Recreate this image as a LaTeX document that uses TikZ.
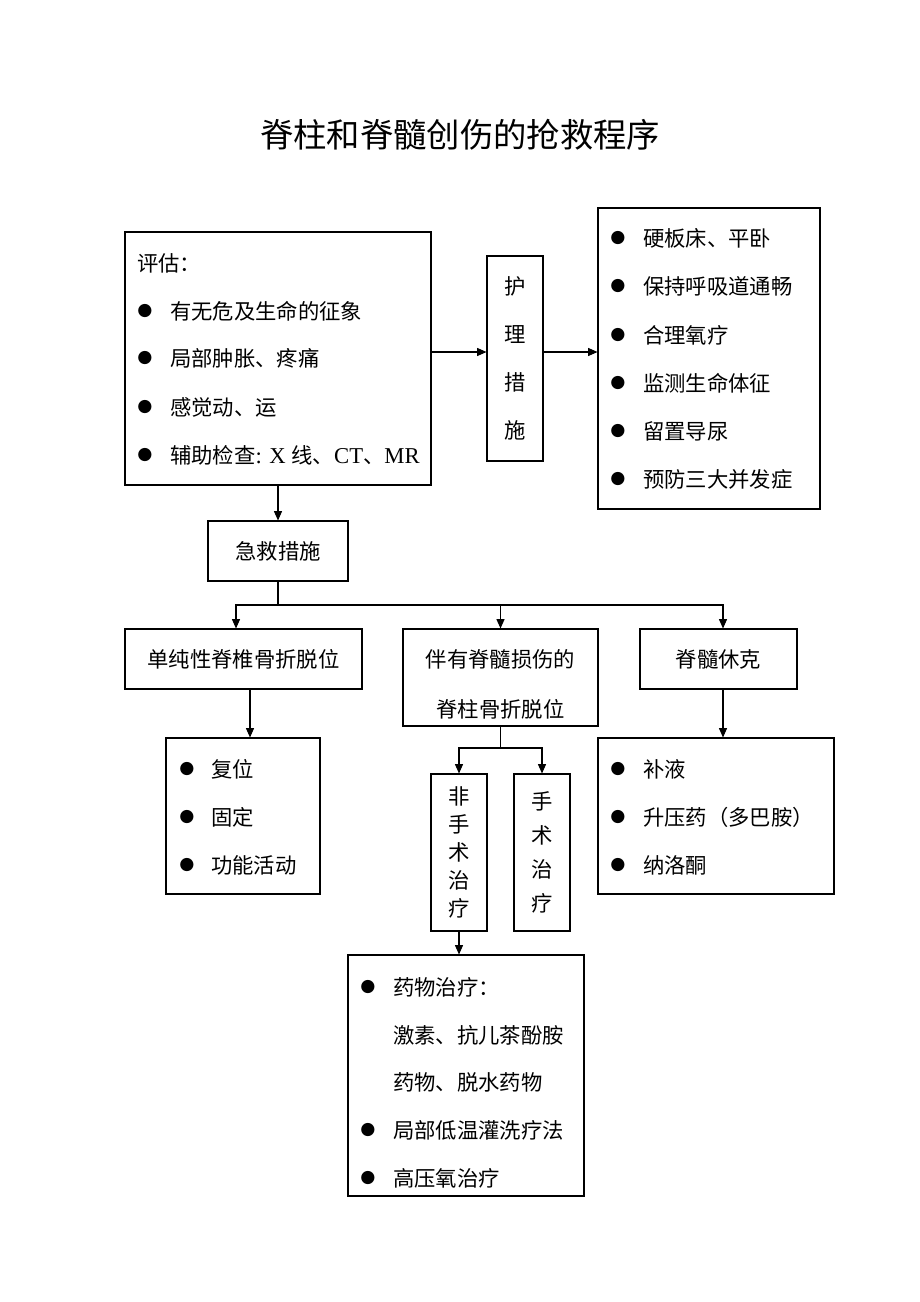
\documentclass[tikz,border=0pt]{standalone}
\usepackage{fontspec}
\setmainfont{Noto Sans CJK SC}
\newfontfamily\lat{Liberation Serif}
\newfontfamily\sym{DejaVu Sans}
\usetikzlibrary{arrows.meta,calc}
\begin{document}
\begin{tikzpicture}[x=0.75pt,y=-0.75pt,
  box/.style={draw, line width=0.8pt, inner sep=0pt, align=center, font=\fontsize{16}{36}\selectfont},
  txt/.style={anchor=west, inner sep=0pt, font=\fontsize{16}{20}\selectfont},
  bul/.style={inner sep=0pt, font=\sym\fontsize{13}{16}\selectfont},
  arr/.style={-{Triangle[length=7pt,width=6pt]}, line width=0.8pt},
  ln/.style={line width=0.8pt}]
\fill[white] (0,0) rectangle (920,1302);
\useasboundingbox (0,0) rectangle (920,1302);
% title
\node[inner sep=0pt, font=\fontsize{25}{30}\selectfont] (title) at (460,135) {脊柱和脊髓创伤的抢救程序};
% evaluation box
\node[box, minimum width={306*0.75pt}, minimum height={253*0.75pt}] (ev) at (278,358.5) {};
\node[txt] (ev0) at (137,263) {评估：};
\foreach \n/\y/\t in {1/311/有无危及生命的征象, 2/358/局部肿胀、疼痛, 3/407/感觉动、运}{
  \node[bul] (evb\n) at (145,\y) {●};
  \node[txt] (evt\n) at (170,\y) {\t};
}
\node[bul] (evb4) at (145,455) {●};
\node[txt] (evt4) at (170,455) {辅助检查{\lat\fontsize{17}{20}\selectfont: X }线、{\lat\fontsize{17}{20}\selectfont CT}、{\lat\fontsize{17}{20}\selectfont MR}};
% nursing
\node[box, minimum width={56*0.75pt}, minimum height={205*0.75pt}] (hl) at (515,358.5) {护\\理\\措\\施};
% right list
\node[box, minimum width={222*0.75pt}, minimum height={301*0.75pt}] (rl) at (709,358.5) {};
\foreach \n/\y/\t in {1/238/硬板床、平卧, 2/286/保持呼吸道通畅, 3/335/合理氧疗, 4/383/监测生命体征, 5/431/留置导尿, 6/479/预防三大并发症}{
  \node[bul] (rlb\n) at (618,\y) {●};
  \node[txt] (rlt\n) at (643,\y) {\t};
}
\draw[arr] ($(ev.east)+(0,-6.5)$) -- ($(hl.west)+(0,-6.5)$);
\draw[arr] ($(hl.east)+(0,-6.5)$) -- ($(rl.west)+(0,-6.5)$);
% first aid
\node[box, minimum width={140*0.75pt}, minimum height={60*0.75pt}] (jj) at (278,551) {急救措施};
\draw[arr] (ev.south) -- (jj.north);
% three categories
\node[box, minimum width={237*0.75pt}, minimum height={60*0.75pt}] (dc) at (243.5,659) {单纯性脊椎骨折脱位};
\node[box, minimum width={195*0.75pt}, minimum height={97*0.75pt}] (bs) at (500.5,677.5) {};
\node[inner sep=0pt, align=center, font=\fontsize{16}{37}\selectfont] (bst) at (500.5,684.5) {伴有脊髓损伤的\\脊柱骨折脱位};
\node[box, minimum width={157*0.75pt}, minimum height={60*0.75pt}] (xk) at (718.5,659) {脊髓休克};
\coordinate (f1) at (278,605);
\draw[ln] (jj.south) -- (f1);
\draw[arr] (f1) -| ($(dc.north)+(-7.5,0)$);
\draw[arr] (f1) -| (bs.north);
\draw[arr] (f1) -| ($(xk.north)+(4.5,0)$);
% reduction list
\node[box, minimum width={154*0.75pt}, minimum height={156*0.75pt}] (fw) at (243,816) {};
\foreach \n/\y/\t in {1/769/复位, 2/817/固定, 3/865/功能活动}{
  \node[bul] (fwb\n) at (187,\y) {●};
  \node[txt] (fwt\n) at (211,\y) {\t};
}
\draw[arr] ($(dc.south)+(6.5,0)$) -- ($(fw.north)+(7,0)$);
% shock list
\node[box, minimum width={236*0.75pt}, minimum height={156*0.75pt}] (by) at (716,816) {};
\foreach \n/\y/\t in {1/769/补液, 2/817/升压药（多巴胺）, 3/865/纳洛酮}{
  \node[bul] (byb\n) at (618,\y) {●};
  \node[txt] (byt\n) at (643,\y) {\t};
}
\draw[arr] ($(xk.south)+(4.5,0)$) -- ($(by.north)+(7,0)$);
% surgical / non-surgical
\node[box, minimum width={56*0.75pt}, minimum height={157*0.75pt}, font=\fontsize{16}{21}\selectfont] (fs) at (459,852.5) {非\\手\\术\\治\\疗};
\node[box, minimum width={56*0.75pt}, minimum height={157*0.75pt}, font=\fontsize{16}{25.5}\selectfont] (ss) at (542,852.5) {手\\术\\治\\疗};
\coordinate (f2) at (500.5,748);
\draw[ln] (bs.south) -- (f2);
\draw[arr] (f2) -| (fs.north);
\draw[arr] (f2) -| (ss.north);
% drug list
\node[box, minimum width={236*0.75pt}, minimum height={241*0.75pt}] (ym) at (466,1075.5) {};
\node[bul] (ymb1) at (368,987) {●};
\node[txt] (ymt1) at (393,987) {药物治疗：};
\node[txt] (ymt2) at (393,1035) {激素、抗儿茶酚胺};
\node[txt] (ymt3) at (393,1082) {药物、脱水药物};
\node[bul] (ymb4) at (368,1130) {●};
\node[txt] (ymt4) at (393,1130) {局部低温灌洗疗法};
\node[bul] (ymb5) at (368,1178) {●};
\node[txt] (ymt5) at (393,1178) {高压氧治疗};
\draw[arr] (fs.south) -- ($(ym.north)+(-7,0)$);
\end{tikzpicture}
\end{document}
